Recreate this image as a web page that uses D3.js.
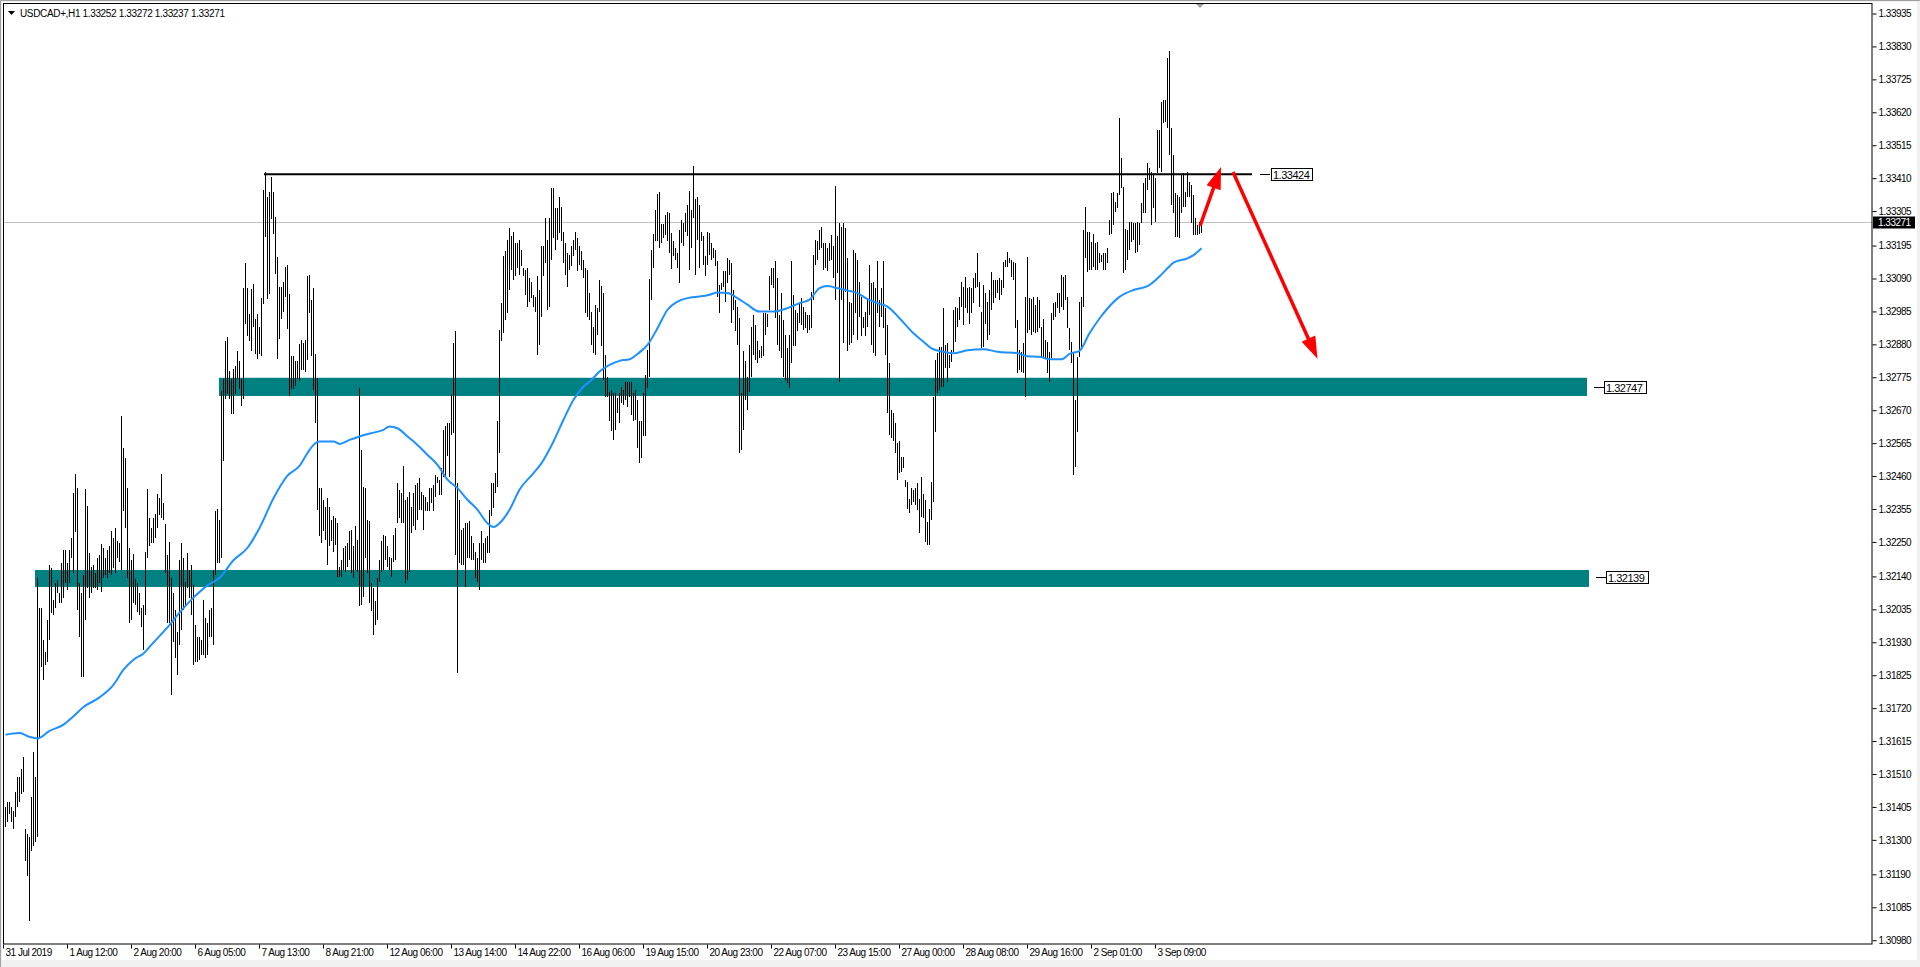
<!DOCTYPE html>
<html>
<head>
<meta charset="utf-8">
<script src="https://d3js.org/d3.v7.min.js"></script>
<style>
  html, body { margin: 0; padding: 0; background: #f0f0f0; overflow: hidden; }
  svg { display: block; }
  text { font-family: "Liberation Sans", Arial, sans-serif; font-size: 10px; letter-spacing: -0.5px; }
</style>
</head>
<body>
<div id="chart"></div>
<script>
// USDCAD+ H1 bars: high / low of each hourly bar, oldest first
const highs = [1.31395,
  1.31407,1.31423,1.31423,1.31407,1.31392,1.31455,1.31503,1.31503,1.31526,1.31566,
  1.31336,1.31320,1.31312,1.31439,1.31582,1.31503,1.32137,1.32042,1.32042,1.31939,
  1.31899,1.32002,1.32177,1.32169,1.32066,1.32121,1.32129,1.32090,1.32185,1.32225,
  1.32225,1.32185,1.32225,1.32264,1.32407,1.32467,1.32423,1.32121,1.32090,1.32145,
  1.32420,1.32367,1.32217,1.32172,1.32177,1.32153,1.32201,1.32209,1.32245,1.32233,
  1.32201,1.32225,1.32240,1.32288,1.32264,1.32296,1.32256,1.32248,1.32653,1.32550,
  1.32518,1.32423,1.32233,1.32193,1.32213,1.32134,1.32121,1.32090,1.32042,1.32050,
  1.32220,1.32420,1.32328,1.32296,1.32328,1.32340,1.32404,1.32391,1.32467,1.32375,
  1.32309,1.32209,1.32251,1.32137,1.32090,1.32034,1.31963,1.32193,1.32248,1.32201,
  1.32125,1.32217,1.32161,1.32177,1.32113,1.31987,1.31947,1.31947,1.31939,1.32066,
  1.32010,1.31994,1.32034,1.32042,1.32161,1.32351,1.32356,1.32320,1.32732,1.32772,
  1.32891,1.32904,1.32796,1.32772,1.32804,1.32812,1.32859,1.32827,1.32772,1.33061,
  1.33140,1.33061,1.32978,1.33057,1.33073,1.32962,1.32978,1.32938,1.33029,1.33375,
  1.33430,1.33351,1.33367,1.33414,1.33367,1.33288,1.33161,1.33065,1.33065,1.33081,
  1.33129,1.33134,1.33042,1.32843,1.32843,1.32827,1.32827,1.32883,
  1.32896,1.32885,1.32896,1.33098,1.33103,1.33024,1.33061,1.32851,1.32774,1.32423,
  1.32423,1.32386,1.32364,1.32391,1.32364,1.32322,1.32333,1.32327,1.32311,1.32173,
  1.32194,1.32232,1.32237,1.32248,1.32285,1.32290,1.32237,1.32301,1.32258,1.32742,
  1.32545,1.32428,1.32423,1.32322,1.32317,1.32120,1.32104,1.32062,1.32136,1.32194,
  1.32253,1.32274,1.32269,1.32237,1.32205,1.32200,1.32274,1.32295,1.32439,1.32418,
  1.32407,1.32494,1.32386,1.32396,1.32412,1.32364,1.32407,1.32434,1.32439,1.32455,
  1.32412,1.32402,1.32396,1.32380,1.32423,1.32423,1.32434,1.32465,1.32460,1.32450,
  1.32487,1.32609,1.32620,1.32630,1.32630,1.32721,1.32885,1.32923,1.32439,1.32386,
  1.32290,1.32295,1.32311,1.32311,1.32317,1.32269,1.32248,1.32221,1.32200,1.32248,
  1.32285,1.32248,1.32263,1.32269,1.32354,1.32439,1.32441,1.32471,1.32636,1.32928,
  1.33015,1.33162,1.33178,1.33215,1.33252,1.33226,1.33241,1.33204,1.33204,1.33215,
  1.33183,1.33125,1.33119,1.33125,1.33093,1.33082,1.33039,1.33034,1.33098,1.33055,
  1.33196,1.33194,1.33284,1.33215,1.33284,1.33380,1.33380,1.33316,1.33316,1.33353,
  1.33321,1.33241,1.33204,1.33172,1.33167,1.33194,1.33215,1.33241,1.33220,1.33194,
  1.33178,1.33151,1.33125,1.33119,1.33045,1.32986,1.32938,1.33008,1.32997,1.33087,
  1.33068,1.33045,1.32848,1.32779,1.32731,1.32737,1.32726,1.32726,1.32710,1.32726,
  1.32747,1.32737,1.32763,1.32763,1.32763,1.32763,1.32726,1.32737,1.32705,1.32636,
  1.32636,1.32726,1.32784,1.32864,1.33089,1.33181,1.33234,1.33311,1.33362,1.33366,
  1.33266,1.33266,1.33295,1.33305,1.33302,1.33236,1.33210,1.33188,1.33172,1.33247,
  1.33279,1.33268,1.33302,1.33326,1.33369,1.33311,1.33449,1.33345,1.33353,1.33326,
  1.33241,1.33228,1.33162,1.33241,1.33236,1.33204,1.33188,1.33183,1.33146,1.33071,
  1.33077,1.33114,1.33114,1.33156,1.33151,1.33140,1.33055,1.33024,1.33002,1.32965,
  1.32726,1.32859,1.32827,1.32779,1.32880,1.32938,1.32976,1.32944,1.32891,1.32864,
  1.32875,1.32981,1.32981,1.32979,1.33098,1.33125,1.33125,1.33146,1.33093,1.32976,
  1.33045,1.32960,1.32912,1.32869,1.32912,1.33146,1.33039,1.32992,1.32981,1.33013,
  1.33029,1.33002,1.32986,1.32976,1.32976,1.33050,1.33167,1.33215,1.33210,1.33247,
  1.33257,1.33204,1.33204,1.33188,1.33204,1.33231,1.33194,1.33385,1.33226,1.33268,
  1.33257,1.33268,1.33252,1.33156,1.33018,1.33013,1.33183,1.33172,1.33151,1.33082,
  1.33034,1.32970,1.32986,1.33029,1.33135,1.33077,1.33082,1.33061,1.33146,1.33024,
  1.33061,1.33146,1.32997,1.32944,1.32822,1.32673,1.32662,1.32630,1.32566,1.32572,
  1.32523,1.32523,1.32449,1.32444,1.32390,1.32422,1.32417,1.32422,1.32438,1.32390,
  1.32459,1.32406,1.32385,1.32316,1.32358,1.32444,1.32715,1.32832,1.32853,1.32874,
  1.32874,1.32996,1.32879,1.32885,1.32847,1.32863,1.32991,1.33002,1.32996,1.33033,
  1.33081,1.33065,1.33097,1.33060,1.33065,1.33060,1.33092,1.33108,1.33172,1.33081,
  1.32986,1.33071,1.33044,1.33018,1.33055,1.33113,1.33087,1.33087,1.33087,1.33092,
  1.33087,1.33145,1.33150,1.33177,1.33156,1.33150,1.33145,1.33142,1.32959,1.32863,
  1.32858,1.32885,1.33033,1.33161,1.33028,1.33025,1.33033,1.33007,1.33033,1.33023,
  1.32938,1.32964,1.32895,1.32890,1.32858,1.32980,1.33012,1.33018,1.33044,1.33044,
  1.33103,1.33097,1.33103,1.33033,1.32933,1.32890,1.32853,1.32704,1.32842,1.33018,
  1.33033,1.33246,1.33320,1.33241,1.33241,1.33209,1.33235,1.33204,1.33209,1.33172,
  1.33166,1.33172,1.33172,1.33188,1.33278,1.33363,1.33368,1.33336,1.33363,1.33602,
  1.33475,1.33384,1.33251,1.33246,1.33273,1.33273,1.33267,1.33267,1.33273,1.33267,
  1.33331,1.33395,1.33411,1.33459,1.33443,1.33432,1.33421,1.33411,1.33565,1.33565,
  1.33655,1.33661,1.33661,1.33794,1.33818,1.33570,1.33485,1.33363,1.33358,1.33352,
  1.33421,1.33427,1.33368,1.33432,1.33400,1.33390,1.33358,1.33283,1.33262,1.33273,
  1.33272];

const lows = [1.31340,
  1.31344,1.31360,1.31384,1.31360,1.31336,1.31376,1.31407,1.31423,1.31447,1.31455,
  1.31233,1.31185,1.31043,1.31265,1.31281,1.31296,1.31312,1.31630,1.31852,1.31812,
  1.31860,1.31868,1.31939,1.32026,1.32018,1.32042,1.32090,1.32058,1.32058,1.32074,
  1.32121,1.32098,1.32121,1.32201,1.32153,1.32283,1.32034,1.31947,1.31820,1.31820,
  1.32002,1.32106,1.32074,1.32090,1.32106,1.32106,1.32098,1.32121,1.32093,1.32137,
  1.32145,1.32137,1.32153,1.32145,1.32169,1.32153,1.32201,1.32188,1.32161,1.32351,
  1.32296,1.32137,1.31994,1.32002,1.32058,1.32050,1.32029,1.32018,1.31979,1.31907,
  1.32018,1.32201,1.32240,1.32248,1.32248,1.32264,1.32296,1.32336,1.32328,1.32320,
  1.32153,1.31994,1.31994,1.31764,1.31931,1.31883,1.31828,1.31923,1.31971,1.32034,
  1.32050,1.32106,1.32074,1.32018,1.31860,1.31868,1.31868,1.31875,1.31891,1.31891,
  1.31883,1.31891,1.31947,1.31947,1.31923,1.32145,1.32185,1.32185,1.32201,1.32510,
  1.32708,1.32724,1.32708,1.32661,1.32661,1.32724,1.32772,1.32740,1.32685,1.32708,
  1.32946,1.32907,1.32891,1.32859,1.32938,1.32851,1.32835,1.32851,1.32843,1.33010,
  1.33224,1.33026,1.33042,1.33280,1.33232,1.33105,1.32835,1.32899,1.32962,1.32986,
  1.33034,1.32931,1.32716,1.32740,1.32740,1.32748,1.32772,1.32764,
  1.32800,1.32800,1.32795,1.32832,1.32981,1.32843,1.32737,1.32630,1.32354,1.32269,
  1.32248,1.32285,1.32258,1.32178,1.32237,1.32253,1.32221,1.32242,1.32141,1.32141,
  1.32141,1.32163,1.32157,1.32173,1.32194,1.32152,1.32136,1.32163,1.32157,1.32046,
  1.32051,1.32077,1.32200,1.32152,1.32056,1.32030,1.31955,1.31987,1.32003,1.32125,
  1.32157,1.32163,1.32194,1.32173,1.32163,1.32141,1.32189,1.32194,1.32311,1.32327,
  1.32311,1.32311,1.32120,1.32131,1.32157,1.32279,1.32301,1.32290,1.32322,1.32354,
  1.32354,1.32290,1.32349,1.32349,1.32349,1.32375,1.32349,1.32396,1.32439,1.32402,
  1.32402,1.32460,1.32460,1.32524,1.32460,1.32593,1.32598,1.32210,1.31833,1.32184,
  1.32178,1.32178,1.32109,1.32200,1.32200,1.32194,1.32194,1.32136,1.32125,1.32099,
  1.32194,1.32184,1.32184,1.32216,1.32216,1.32333,1.32359,1.32407,1.32428,1.32535,
  1.32891,1.32917,1.32960,1.32981,1.33055,1.33119,1.33087,1.33098,1.33125,1.33103,
  1.33130,1.33098,1.33039,1.33002,1.33018,1.33029,1.33002,1.32986,1.32848,1.32880,
  1.32970,1.33098,1.33140,1.32992,1.33002,1.33151,1.33220,1.33183,1.33215,1.33236,
  1.33210,1.33140,1.33103,1.33066,1.33119,1.33130,1.33162,1.33183,1.33114,1.33135,
  1.33119,1.33093,1.32981,1.32970,1.32960,1.32880,1.32853,1.32848,1.32912,1.32986,
  1.32875,1.32768,1.32715,1.32715,1.32636,1.32604,1.32577,1.32609,1.32662,1.32630,
  1.32694,1.32689,1.32705,1.32683,1.32715,1.32657,1.32636,1.32641,1.32551,1.32503,
  1.32519,1.32588,1.32588,1.32742,1.32779,1.33024,1.33125,1.33210,1.33210,1.33188,
  1.33204,1.33220,1.33231,1.33210,1.33172,1.33121,1.33162,1.33151,1.33125,1.33077,
  1.33204,1.33194,1.33241,1.33226,1.33119,1.33188,1.33284,1.33103,1.33215,1.33125,
  1.33210,1.33135,1.33098,1.33135,1.33167,1.33151,1.33156,1.33130,1.33034,1.32981,
  1.33055,1.33066,1.33018,1.33077,1.33103,1.32949,1.32992,1.32923,1.32880,1.32535,
  1.32545,1.32609,1.32705,1.32673,1.32731,1.32779,1.32848,1.32832,1.32822,1.32838,
  1.32838,1.32843,1.32912,1.32938,1.32992,1.33071,1.33061,1.32965,1.32880,1.32859,
  1.32838,1.32779,1.32768,1.32758,1.32742,1.32822,1.32875,1.32875,1.32923,1.32949,
  1.32944,1.32928,1.32933,1.32917,1.32928,1.32933,1.33024,1.33135,1.33151,1.33183,
  1.33188,1.33119,1.33125,1.33114,1.33146,1.33151,1.33093,1.33024,1.33109,1.32763,
  1.33024,1.32885,1.33050,1.32859,1.32880,1.32885,1.32912,1.32981,1.32896,1.32970,
  1.32907,1.32933,1.32907,1.32938,1.32976,1.32880,1.32853,1.32843,1.32981,1.32938,
  1.32970,1.32933,1.32848,1.32662,1.32593,1.32582,1.32572,1.32535,1.32450,1.32471,
  1.32475,1.32486,1.32428,1.32358,1.32343,1.32369,1.32380,1.32369,1.32353,1.32279,
  1.32332,1.32327,1.32252,1.32242,1.32242,1.32321,1.32380,1.32603,1.32725,1.32736,
  1.32746,1.32746,1.32805,1.32762,1.32805,1.32826,1.32858,1.32890,1.32938,1.32959,
  1.33002,1.32943,1.32996,1.32980,1.32948,1.32980,1.33012,1.33060,1.33065,1.33002,
  1.32869,1.32874,1.32948,1.32895,1.32911,1.32991,1.33012,1.33028,1.33044,1.33023,
  1.33039,1.33060,1.33129,1.33129,1.33140,1.33097,1.33087,1.32933,1.32789,1.32800,
  1.32794,1.32789,1.32715,1.32917,1.32927,1.32911,1.32922,1.32917,1.32922,1.32933,
  1.32837,1.32842,1.32837,1.32789,1.32762,1.32837,1.32959,1.32970,1.32996,1.32980,
  1.33002,1.32991,1.33023,1.32933,1.32863,1.32821,1.32465,1.32491,1.32603,1.32842,
  1.32863,1.33002,1.33156,1.33113,1.33119,1.33119,1.33129,1.33119,1.33119,1.33140,
  1.33145,1.33119,1.33119,1.33140,1.33230,1.33235,1.33262,1.33305,1.33315,1.33358,
  1.33379,1.33108,1.33119,1.33150,1.33182,1.33209,1.33214,1.33172,1.33177,1.33198,
  1.33267,1.33299,1.33299,1.33374,1.33406,1.33262,1.33315,1.33273,1.33427,1.33443,
  1.33432,1.33586,1.33592,1.33570,1.33485,1.33326,1.33299,1.33225,1.33225,1.33220,
  1.33299,1.33320,1.33320,1.33352,1.33352,1.33267,1.33230,1.33230,1.33230,1.33235,
  1.33237];

// moving average, read at these bar numbers
const maBars = [1,8,13,17,23,30,35,40,48,55,60,65,70,75,82,88,95,102,108,115,122,128,135,142,148,
  152,155,158,165,168,173,178,185,190,193,197,202,207,212,217,222,227,232,237,242,245,248,253,258,265,269,275,280,285,290,294,298,
  303,308,313,318,322,327,332,337,342,348,353,357,362,367,372,378,385,392,398,403,408,412,415,422,427,432,437,442,448,
  455,460,464,470,475,482,490,497,507,512,518,523,529,533,538,543,548,552,558,565,572,577,582,585,592,595,599];
const maValues = [1.31637,1.31642,1.31630,1.31625,1.31649,1.31669,1.31696,1.31725,1.31756,1.31796,1.31844,1.31876,1.31896,1.31931,1.31979,1.32026,1.32074,1.32113,1.32137,1.32193,1.32233,1.32296,1.32391,1.32463,1.32494,
  1.32535,1.32561,1.32572,1.32572,1.32564,1.32577,1.32588,1.32600,1.32609,1.32620,1.32614,1.32588,1.32561,1.32529,1.32497,1.32450,1.32423,1.32386,1.32354,1.32311,1.32299,1.32311,1.32354,1.32418,1.32471,1.32503,1.32572,1.32641,1.32705,1.32747,1.32768,1.32795,
  1.32816,1.32829,1.32834,1.32856,1.32880,1.32933,1.32992,1.33018,1.33029,1.33034,1.33040,1.33047,1.33045,1.33029,1.33008,1.32986,1.32986,1.32997,1.33013,1.33024,1.33061,1.33068,1.33064,1.33053,1.33045,1.33026,1.33013,1.33002,1.32965,
  1.32917,1.32890,1.32869,1.32858,1.32853,1.32863,1.32866,1.32858,1.32853,1.32844,1.32842,1.32834,1.32834,1.32851,1.32861,1.32917,1.32964,1.32996,1.33033,1.33055,1.33067,1.33092,1.33124,1.33142,1.33156,1.33166,1.33188];

// axis labels
const priceTicks = ["1.33935","1.33830","1.33725","1.33620","1.33515","1.33410","1.33305","1.33195","1.33090",
  "1.32985","1.32880","1.32775","1.32670","1.32565","1.32460","1.32355","1.32250","1.32140","1.32035",
  "1.31930","1.31825","1.31720","1.31615","1.31510","1.31405","1.31300","1.31190","1.31085","1.30980"];
const timeLabels = ["31 Jul 2019","1 Aug 12:00","2 Aug 20:00","6 Aug 05:00","7 Aug 13:00","8 Aug 21:00",
  "12 Aug 06:00","13 Aug 14:00","14 Aug 22:00","16 Aug 06:00","19 Aug 15:00","20 Aug 23:00","22 Aug 07:00",
  "23 Aug 15:00","27 Aug 00:00","28 Aug 08:00","29 Aug 16:00","2 Sep 01:00","3 Sep 09:00"];
const timeTickBars = [0,32,64,96,128,160,192,224,256,288,320,352,384,416,448,480,512,544,576];

// drawn objects (bar numbers / prices)
const zoneLabels = [1.32747, 1.32139];
const zoneTop = [1.32775, 1.32162];
const zoneBottom = [1.32717, 1.32108];
const zoneStart = [107.75, 15.75];
const zoneEnd = [791.75, 792.75];
const resistance = 1.33424;
const resistanceStart = 130.25, resistanceEnd = 624.25;
const arrowFromBar = [598.25, 614.75], arrowFromPrice = [1.33259, 1.33431];
const arrowToBar = [608.75, 657], arrowToPrice = [1.33447, 1.32836];
const lastPrice = 1.33271;
const title = "USDCAD+,H1  1.33252 1.33272 1.33237 1.33271";

const width = 1920, height = 967;
const plotRight = 1872, plotBottom = 944;

const xScale = d3.scaleLinear().domain([0, 1]).range([3.5, 5.5]);
const yScale = d3.scaleLinear().domain([1.30980, 1.33935]).range([940.7, 14]);

const svg = d3.select('#chart')
  .append('svg')
  .attr('width', width)
  .attr('height', height);

// window frame
svg.append('rect').attr('x', 0).attr('y', 0).attr('width', width).attr('height', height).attr('fill', '#f0f0f0');
svg.append('rect').attr('x', 2).attr('y', 2).attr('width', 1915).attr('height', 958).attr('fill', '#fff');
svg.append('path').attr('d', 'M0.5,967V0.5H1920').attr('stroke', '#a0a0a0').attr('fill', 'none');

// zones
const zones = svg.append('g');
zoneLabels.forEach((v, i) => {
  const x2 = xScale(zoneEnd[i]);
  zones.append('rect')
    .attr('x', xScale(zoneStart[i]))
    .attr('y', yScale(zoneTop[i]))
    .attr('width', x2 - xScale(zoneStart[i]))
    .attr('height', yScale(zoneBottom[i]) - yScale(zoneTop[i]))
    .attr('fill', '#008080');
  const yc = Math.round(yScale(v)) + 0.5;
  zones.append('line').attr('x1', x2 + 7).attr('x2', x2 + 17).attr('y1', yc).attr('y2', yc)
    .attr('stroke', '#000');
  zones.append('rect').attr('x', Math.round(x2 + 17) + 0.5).attr('y', yc - 6).attr('width', 42).attr('height', 12)
    .attr('fill', '#fff').attr('stroke', '#000');
  zones.append('text').attr('x', x2 + 19).attr('y', yc + 4).attr('font-size', 11).style('font-size', '11px')
    .text(d3.format('.5f')(v));
});

// current price line
const yLast = Math.round(yScale(lastPrice)) + 0.5;
svg.append('line').attr('x1', 3).attr('x2', plotRight).attr('y1', yLast).attr('y2', yLast)
  .attr('stroke', '#c0c0c0');

// bars
svg.append('g')
  .selectAll('line')
  .data(highs)
  .join('line')
  .attr('x1', (d, i) => xScale(i))
  .attr('x2', (d, i) => xScale(i))
  .attr('y1', d => yScale(d))
  .attr('y2', (d, i) => Math.max(yScale(lows[i]), yScale(d) + 1))
  .attr('stroke', '#000')
  .attr('shape-rendering', 'crispEdges');

// moving average
const maLine = d3.line()
  .x((d, i) => xScale(maBars[i]))
  .y(d => yScale(d))
  .curve(d3.curveMonotoneX);
svg.append('path').datum(maValues).attr('d', maLine)
  .attr('fill', 'none').attr('stroke', '#1e90ff').attr('stroke-width', 2);

// resistance line with its price label
const yRes = yScale(resistance);
const xResEnd = xScale(resistanceEnd);
svg.append('line').attr('x1', xScale(resistanceStart)).attr('x2', xResEnd).attr('y1', yRes).attr('y2', yRes)
  .attr('stroke', '#000').attr('stroke-width', 2);
svg.append('line').attr('x1', xResEnd + 8).attr('x2', xResEnd + 18).attr('y1', Math.round(yRes) + 0.5).attr('y2', Math.round(yRes) + 0.5)
  .attr('stroke', '#000');
svg.append('rect').attr('x', Math.round(xResEnd + 19) + 0.5).attr('y', Math.round(yRes) - 5.5).attr('width', 41).attr('height', 12)
  .attr('fill', '#fff').attr('stroke', '#000');
svg.append('text').attr('x', xResEnd + 21).attr('y', Math.round(yRes) + 5).style('font-size', '11px')
  .text(d3.format('.5f')(resistance));

// red arrows
const arrows = svg.append('g');
arrowFromBar.forEach((b, i) => {
  const x1 = xScale(b), y1 = yScale(arrowFromPrice[i]);
  const x2 = xScale(arrowToBar[i]), y2 = yScale(arrowToPrice[i]);
  const len = Math.hypot(x2 - x1, y2 - y1);
  const ux = (x2 - x1) / len, uy = (y2 - y1) / len;
  const head = 22, half = 7.5;
  const bx = x2 - ux * head, by = y2 - uy * head;
  arrows.append('line').attr('x1', x1).attr('y1', y1).attr('x2', bx + ux * 2).attr('y2', by + uy * 2)
    .attr('stroke', '#ff0000').attr('stroke-width', 3.5);
  arrows.append('path')
    .attr('d', `M${x2},${y2}L${bx - uy * half},${by + ux * half}L${bx + uy * half},${by - ux * half}Z`)
    .attr('fill', '#ff0000');
});

// plot frame
svg.append('rect').attr('x', 3.5).attr('y', 3.5).attr('width', plotRight - 3.5).attr('height', plotBottom - 3.5)
  .attr('fill', 'none').attr('stroke', '#000');

// shift marker
const xs = Math.round(xScale(598));
svg.append('path').attr('d', `M${xs - 4},4L${xs + 4},4L${xs},8Z`).attr('fill', '#a0a0a0');

// price axis
const yAxis = d3.axisRight(yScale)
  .tickValues(priceTicks.map(Number))
  .tickFormat((d, i) => priceTicks[i])
  .tickSizeInner(4).tickSizeOuter(0).tickPadding(2)
  .offset(0);
const gy = svg.append('g').attr('transform', `translate(${plotRight + 0.5},0)`).call(yAxis);
gy.select('.domain').remove();
gy.selectAll('.tick line').attr('stroke', '#000');
gy.selectAll('.tick text').attr('fill', '#000');

// last price box
svg.append('rect').attr('x', plotRight + 1).attr('y', yLast - 6).attr('width', 42).attr('height', 12).attr('fill', '#000');
svg.append('text').attr('x', plotRight + 6).attr('y', yLast + 3.5).attr('fill', '#fff')
  .text(d3.format('.5f')(lastPrice));

// time axis
const xAxis = d3.axisBottom(xScale)
  .tickValues(timeTickBars)
  .tickFormat((d, i) => timeLabels[i])
  .tickSizeInner(4).tickSizeOuter(0)
  .offset(0);
const gx = svg.append('g').attr('transform', `translate(0,${plotBottom + 0.5})`).call(xAxis);
gx.select('.domain').remove();
gx.selectAll('.tick line').attr('stroke', '#000');
gx.selectAll('.tick text').attr('fill', '#000').attr('text-anchor', 'start').attr('x', 2).attr('y', 4).attr('dy', '0.71em');

// title
svg.append('path').attr('d', 'M8,11L15,11L11.5,15Z').attr('fill', '#000');
svg.append('text').attr('x', 20).attr('y', 17).style('letter-spacing', '-0.35px').text(title);
</script>
</body>
</html>
